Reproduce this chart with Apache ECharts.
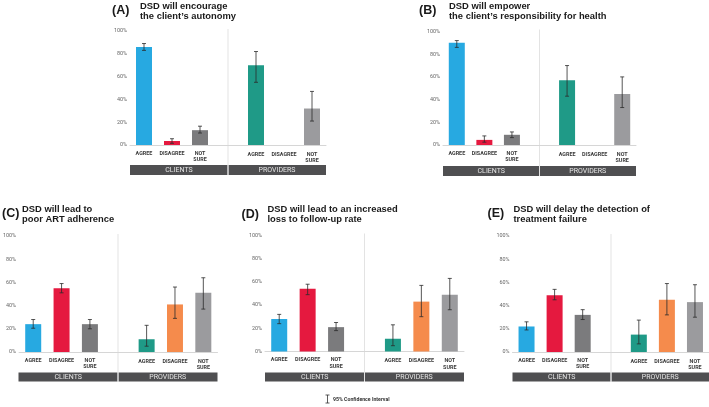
<!DOCTYPE html>
<html>
<head>
<meta charset="utf-8">
<script src="https://cdn.jsdelivr.net/npm/echarts@6/dist/echarts.min.js"></script>
<style>html,body{margin:0;padding:0;background:#fff}#c{width:709px;height:407px}</style>
</head>
<body>
<div id="c"></div>
<script>
// ---- data ----
const groups = ['CLIENTS', 'PROVIDERS'];
const responses = ['AGREE', 'DISAGREE', 'NOT SURE'];
const panelLetters = ['(A)', '(B)', '(C)', '(D)', '(E)'];
const panelTitles = [
  'DSD will encourage\nthe client\u2019s autonomy',
  'DSD will empower\nthe client\u2019s responsibility for health',
  'DSD will lead to\npoor ART adherence',
  'DSD will lead to an increased\nloss to follow-up rate',
  'DSD will delay the detection of\ntreatment failure'
];
const yTicks = [0, 20, 40, 60, 80, 100];
const clientValues = [[86, 3.5, 13], [90, 4.5, 9], [24, 55, 24], [28, 54, 21], [22, 49, 32]];
const clientLow    = [[83, 1.5, 10.5], [86, 2.5, 6.5], [20.5, 51, 20], [24, 49, 18], [19, 45, 28]];
const clientHigh   = [[89, 5.5, 16.5], [92, 8, 11.5], [28, 59, 28], [32, 58, 25], [26, 54, 36.5]];
const providerValues = [[70, 0, 32], [57, 0, 45], [11, 41, 51], [11, 43, 49], [15, 45, 43]];
const providerLow    = [[55, null, 21], [43, null, 33], [5, 29, 37], [5, 30, 36], [7, 32, 30]];
const providerHigh   = [[82, null, 47], [70, null, 60], [23, 56, 64], [23, 57, 63], [27.5, 59, 58]];

// ---- style / layout ----
const clientColors = ['#27a9e1', '#e5193f', '#7b7b7d'];
const providerColors = ['#1f9a87', '#f58b4c', '#9b9b9e'];
const panels = [
  {left: 130, top: 31, width: 196, height: 114, letterX: 112, letterY: 10.5, titleX: 140, titleY: 1.5, barTop: 165, barH: 10},
  {left: 443, top: 31.5, width: 193, height: 113.5, letterX: 419, letterY: 10.5, titleX: 449, titleY: 1.5, barTop: 166, barH: 10},
  {left: 18.5, top: 236, width: 199, height: 116, letterX: 2, letterY: 214, titleX: 22, titleY: 204.5, barTop: 372.5, barH: 9},
  {left: 265, top: 235.5, width: 199, height: 116, letterX: 241.5, letterY: 214.5, titleX: 267.5, titleY: 204.5, barTop: 372.5, barH: 9},
  {left: 512.5, top: 236, width: 197, height: 116, letterX: 487.5, letterY: 214, titleX: 513.5, titleY: 204.5, barTop: 372.5, barH: 9}
];
const FONT = 'Roboto';
const TFONT = '"Liberation Sans", Arial, sans-serif';
const cats = responses.concat(['']).concat(responses);

const chart = echarts.init(document.getElementById('c'), null, {renderer: 'canvas'});
const grid = [], xAxis = [], yAxis = [], series = [], graphic = [];

panels.forEach((p, k) => {
  grid.push({left: p.left, top: p.top, width: p.width, height: p.height, containLabel: false});
  xAxis.push({
    type: 'category', gridIndex: k, data: cats,
    axisLine: {show: true, lineStyle: {color: '#d6d6d6', width: 1}},
    axisTick: {show: false},
    axisLabel: {
      interval: 0, margin: 5,
      formatter: (v, i) => {
        if (!v) return '';
        const tag = i > 3 ? 'p' : 'c';
        return v.split(' ').map(s => '{' + tag + '|' + s + '}').join('\n');
      },
      rich: {
        c: {fontFamily: FONT, fontSize: 5.4, fontWeight: 'bold', color: '#3a3a3a', lineHeight: 6.5, align: 'center'},
        p: {fontFamily: FONT, fontSize: 5.4, fontWeight: 'bold', color: '#3a3a3a', lineHeight: 6.5, align: 'center', padding: [2.5, 0, 0, 0]}
      }
    }
  });
  yAxis.push({
    type: 'value', gridIndex: k, min: 0, max: 100, interval: 20,
    axisLine: {show: false}, axisTick: {show: false}, splitLine: {show: false},
    axisLabel: {formatter: '{value}%', fontFamily: FONT, fontSize: 5.4, color: '#666', margin: 3}
  });
  const barData = [];
  clientValues[k].forEach((v, i) => barData.push({value: v, itemStyle: {color: clientColors[i]}}));
  barData.push(null);
  providerValues[k].forEach((v, i) => barData.push({value: v, itemStyle: {color: providerColors[i]}}));
  series.push({
    type: 'bar', xAxisIndex: k, yAxisIndex: k, data: barData, barWidth: 16, silent: true, animation: false
  });
  const errData = [];
  clientValues[k].forEach((v, i) => errData.push([i, clientLow[k][i], clientHigh[k][i]]));
  providerValues[k].forEach((v, i) => {
    if (providerLow[k][i] != null) errData.push([i + 4, providerLow[k][i], providerHigh[k][i]]);
  });
  series.push({
    type: 'custom', xAxisIndex: k, yAxisIndex: k, data: errData, animation: false, silent: true, z: 5,
    renderItem: (params, api) => {
      const x = api.value(0);
      const lo = api.coord([x, api.value(1)]);
      const hi = api.coord([x, api.value(2)]);
      const w = 2;
      const st = {stroke: '#2b2b2b', lineWidth: 0.8};
      return {type: 'group', children: [
        {type: 'line', shape: {x1: lo[0], y1: lo[1], x2: hi[0], y2: hi[1]}, style: st},
        {type: 'line', shape: {x1: lo[0] - w, y1: lo[1], x2: lo[0] + w, y2: lo[1]}, style: st},
        {type: 'line', shape: {x1: hi[0] - w, y1: hi[1], x2: hi[0] + w, y2: hi[1]}, style: st}
      ]};
    }
  });
  // titles
  graphic.push({type: 'text', left: p.letterX, top: p.letterY - 6.5, style: {text: panelLetters[k], font: 'bold 12.5px ' + TFONT, fill: '#1a1a1a'}});
  graphic.push({type: 'text', left: p.titleX, top: p.titleY, style: {text: panelTitles[k], font: 'bold 9.4px ' + TFONT, fill: '#1a1a1a', lineHeight: 10}});
  // divider and group bars
  const mid = p.left + p.width / 2;
  graphic.push({type: 'rect', shape: {x: p.left, y: p.barTop, width: p.width / 2 - 0.5, height: p.barH}, style: {fill: '#4f4f51'}});
  graphic.push({type: 'rect', shape: {x: mid + 0.5, y: p.barTop, width: p.width / 2 - 0.5, height: p.barH}, style: {fill: '#4f4f51'}});
  graphic.push({type: 'line', shape: {x1: mid, y1: p.top - 2, x2: mid, y2: p.barTop + p.barH}, style: {stroke: '#dcdcdc', lineWidth: 0.8}});
  groups.forEach((g, gi) => {
    graphic.push({type: 'text', x: p.left + p.width * (gi * 2 + 1) / 4, y: p.barTop + p.barH / 2,
      style: {text: g, font: '7px ' + FONT, fill: '#e6e6e6', align: 'center', verticalAlign: 'middle'}});
  });
});

// legend
graphic.push({type: 'line', shape: {x1: 327.5, y1: 395, x2: 327.5, y2: 403}, style: {stroke: '#333', lineWidth: 0.8}});
graphic.push({type: 'line', shape: {x1: 325.5, y1: 395, x2: 329.5, y2: 395}, style: {stroke: '#333', lineWidth: 0.8}});
graphic.push({type: 'line', shape: {x1: 325.5, y1: 403, x2: 329.5, y2: 403}, style: {stroke: '#333', lineWidth: 0.8}});
graphic.push({type: 'text', x: 333, y: 399.5, style: {text: '95% Confidence Interval', font: 'bold 5.2px ' + FONT, fill: '#333', verticalAlign: 'middle'}});

chart.setOption({animation: false, grid, xAxis, yAxis, series, graphic});
</script>
</body>
</html>
